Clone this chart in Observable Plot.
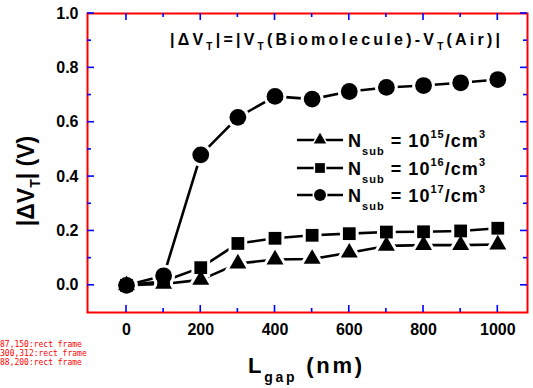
<!DOCTYPE html>
<html><head><meta charset="utf-8">
<script src="https://cdn.jsdelivr.net/npm/d3@7"></script>
<script src="https://cdn.jsdelivr.net/npm/@observablehq/plot@0.6"></script>
<style>
body{margin:0;background:#fff;}
#chart{width:533px;height:388px;}
#chart svg{font-family:"Liberation Sans",Arial,sans-serif;font-weight:bold;font-size:16px;}
#dbg{position:absolute;left:0;top:340px;font:8px monospace;color:red;white-space:pre-wrap;width:230px;}
</style></head><body><div id="chart"></div><div id="dbg"></div>
<script>
// Data
const lgap = [0, 100, 200, 300, 400, 500, 600, 700, 800, 900, 1000];
const dvt15 = [0.0, 0.005, 0.02, 0.08, 0.095, 0.097, 0.12, 0.145, 0.148, 0.148, 0.15];
const dvt16 = [0.0, 0.015, 0.065, 0.154, 0.173, 0.184, 0.19, 0.196, 0.197, 0.2, 0.21];
const dvt17 = [0.0, 0.035, 0.48, 0.618, 0.695, 0.685, 0.713, 0.728, 0.735, 0.745, 0.757];
const xTicksMajor = [0, 200, 400, 600, 800, 1000];
const xTicksMinor = [100, 300, 500, 700, 900];
const yTicksMajor = [0.0, 0.2, 0.4, 0.6, 0.8, 1.0];
const yTicksMinor = [0.1, 0.3, 0.5, 0.7, 0.9];
const legendExp = ["15", "16", "17"];

const s15 = lgap.map((x, i) => ({x, y: dvt15[i]}));
const s16 = lgap.map((x, i) => ({x, y: dvt16[i]}));
const s17 = lgap.map((x, i) => ({x, y: dvt17[i]}));
const series = [
  {data: s15, symbol: "triangle", r: 6.3},
  {data: s16, symbol: "square", r: 7.2},
  {data: s17, symbol: "circle", r: 8.4}
];

const marks = [
  Plot.axisX(xTicksMajor, {tickSize: 0, tickPadding: 11, tickFormat: String, label: null}),
  Plot.axisY(yTicksMajor, {tickSize: 0, tickPadding: 9, tickFormat: d3.format(".1f"), label: null}),
  Plot.frame({stroke: "red", strokeWidth: 2})
];
for (const s of series) marks.push(Plot.line(s.data, {x: "x", y: "y", stroke: "black", strokeWidth: 2.6}));
for (const s of series) marks.push(Plot.dot(s.data, {x: "x", y: "y", symbol: s.symbol, r: s.r, fill: "white", stroke: "white", strokeWidth: 6}));
for (const s of series) marks.push(Plot.dot(s.data, {x: "x", y: "y", symbol: s.symbol, r: s.r, fill: "black", stroke: "none"}));

const chart = Plot.plot({
  width: 533, height: 388,
  marginLeft: 87, marginRight: 6, marginTop: 13, marginBottom: 76,
  x: {domain: [-105, 1080]},
  y: {domain: [-0.1, 1.0]},
  marks
});
document.getElementById("chart").appendChild(chart);

const svg = d3.select(chart);
const sx = chart.scale("x"), sy = chart.scale("y");
const xa = sx.range[0], xb = sx.range[1], yb = sy.range[0], ya = sy.range[1];
const seg = (x1, y1, x2, y2) => svg.append("line").attr("x1", x1).attr("y1", y1).attr("x2", x2).attr("y2", y2)
  .attr("stroke", "blue").attr("stroke-width", 1.6);
for (const [list, len] of [[xTicksMajor, 7], [xTicksMinor, 4]]) for (const v of list) {
  const px = sx.apply(v);
  seg(px, yb, px, yb - len); seg(px, ya, px, ya + len);
}
for (const [list, len] of [[yTicksMajor, 7], [yTicksMinor, 4]]) for (const v of list) {
  const py = sy.apply(v);
  seg(xa, py, xa + len, py); seg(xb, py, xb - len, py);
}

// Title inside plot
const t = svg.append("text").attr("x", 170).attr("y", 45).attr("font-size", 16)
  .attr("text-anchor", "start").attr("textLength", 330).attr("lengthAdjust", "spacing");
t.append("tspan").text("|ΔV");
t.append("tspan").attr("font-size", 10).attr("dy", 5).text("T");
t.append("tspan").attr("dy", -5).text("|=|V");
t.append("tspan").attr("font-size", 10).attr("dy", 5).text("T");
t.append("tspan").attr("dy", -5).text("(Biomolecule)-V");
t.append("tspan").attr("font-size", 10).attr("dy", 5).text("T");
t.append("tspan").attr("dy", -5).text("(Air)|");

// Legend
const rows = [140, 168, 195];
const lsyms = [d3.symbolTriangle, d3.symbolSquare, d3.symbolCircle];
const lr = [4.6, 5.5, 6];
rows.forEach((yy, i) => {
  svg.append("line").attr("x1", 297).attr("x2", 343).attr("y1", yy).attr("y2", yy)
    .attr("stroke", "black").attr("stroke-width", 2.6);
  svg.append("path").attr("transform", `translate(320,${yy})`)
    .attr("d", d3.symbol(lsyms[i], Math.PI * lr[i] * lr[i])()).attr("fill", "black")
    .attr("stroke", "white").attr("stroke-width", 3).attr("paint-order", "stroke");
  const tx = svg.append("text").attr("x", 348).attr("y", yy + 7).attr("font-size", 18)
    .attr("text-anchor", "start").attr("textLength", 137).attr("lengthAdjust", "spacing");
  tx.append("tspan").text("N");
  tx.append("tspan").attr("font-size", 11).attr("dy", 8).text("sub");
  tx.append("tspan").attr("dy", -8).text(" = 10");
  tx.append("tspan").attr("font-size", 11).attr("dy", -9).text(legendExp[i]);
  tx.append("tspan").attr("dy", 9).text("/cm");
  tx.append("tspan").attr("font-size", 11).attr("dy", -9).text("3");
});

// X axis label
const xl = svg.append("text").attr("x", 248).attr("y", 373).attr("font-size", 22)
  .attr("text-anchor", "start").attr("textLength", 114).attr("lengthAdjust", "spacing");
xl.append("tspan").text("L");
xl.append("tspan").attr("font-size", 14).attr("dy", 9).text("gap");
xl.append("tspan").attr("dy", -9).text(" (nm)");

// Y axis label
const yl = svg.append("text").attr("transform", "translate(34,181) rotate(-90)")
  .attr("text-anchor", "middle").attr("font-size", 23);
yl.append("tspan").text("|ΔV");
yl.append("tspan").attr("font-size", 14).attr("dy", 6).text("T");
yl.append("tspan").attr("dy", -6).text("| (V)");

let s = "";
for (const p of [[87,150],[300,312],[88,200]]) { const e = document.elementFromPoint(p[0], p[1]); s += p + ":" + (e ? e.tagName + " " + (e.getAttribute("aria-label")||"") : "none") + "\n"; }
document.getElementById("dbg").textContent = s;
</script></body></html>
